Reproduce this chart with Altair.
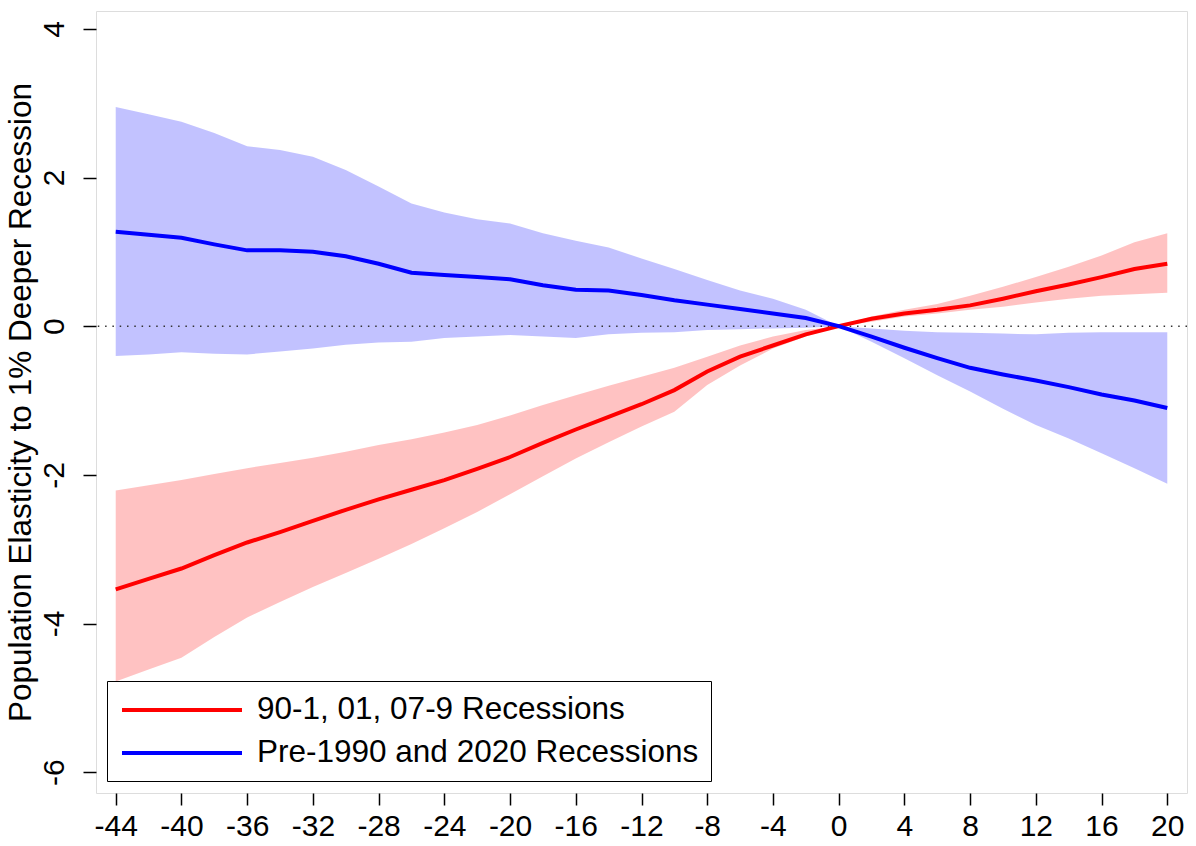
import altair as alt
import pandas as pd

# Event time (months relative to the recession trough)
months = list(range(-44, 21, 2))

# 90-1, 01, 07-9 recessions: point estimate and 95% band
red_est = [-3.54, -3.40, -3.26, -3.08, -2.91, -2.77, -2.62, -2.47, -2.33, -2.20, -2.07,
           -1.92, -1.76, -1.57, -1.39, -1.22, -1.05, -0.86, -0.61, -0.41, -0.26, -0.11,
           0.00, 0.10, 0.17, 0.22, 0.28, 0.37, 0.47, 0.56, 0.66, 0.77, 0.84]
red_hi = [-2.21, -2.14, -2.07, -1.99, -1.91, -1.84, -1.77, -1.69, -1.60, -1.52, -1.43,
          -1.33, -1.20, -1.06, -0.93, -0.80, -0.68, -0.56, -0.41, -0.26, -0.14, -0.05,
          0.00, 0.13, 0.22, 0.30, 0.41, 0.53, 0.66, 0.80, 0.95, 1.13, 1.25]
red_lo = [-4.78, -4.62, -4.46, -4.18, -3.92, -3.71, -3.51, -3.32, -3.13, -2.93, -2.72,
          -2.50, -2.26, -2.02, -1.78, -1.56, -1.35, -1.15, -0.79, -0.53, -0.30, -0.14,
          0.00, 0.06, 0.13, 0.17, 0.22, 0.26, 0.32, 0.37, 0.41, 0.43, 0.45]

# Pre-1990 and 2020 recessions: point estimate and 95% band
blue_est = [1.27, 1.23, 1.19, 1.10, 1.02, 1.02, 1.00, 0.94, 0.84, 0.72, 0.69,
            0.66, 0.63, 0.55, 0.49, 0.48, 0.42, 0.35, 0.29, 0.23, 0.17, 0.11,
            0.00, -0.14, -0.29, -0.43, -0.56, -0.65, -0.73, -0.82, -0.92, -1.00, -1.10]
blue_hi = [2.95, 2.85, 2.75, 2.60, 2.42, 2.37, 2.28, 2.10, 1.88, 1.65, 1.53,
           1.44, 1.38, 1.25, 1.15, 1.06, 0.91, 0.77, 0.62, 0.48, 0.37, 0.22,
           0.00, -0.03, -0.06, -0.08, -0.09, -0.10, -0.11, -0.09, -0.08, -0.08, -0.08]
blue_lo = [-0.40, -0.38, -0.35, -0.37, -0.38, -0.34, -0.30, -0.25, -0.22, -0.21, -0.16,
           -0.14, -0.12, -0.14, -0.16, -0.11, -0.09, -0.08, -0.05, -0.04, -0.03, -0.02,
           0.00, -0.21, -0.43, -0.66, -0.88, -1.11, -1.33, -1.51, -1.71, -1.91, -2.12]

series_names = ["90-1, 01, 07-9 Recessions", "Pre-1990 and 2020 Recessions"]
line_colors = ["#ff0000", "#0000ff"]
x_ticks = list(range(-44, 21, 4))
y_ticks = [-6, -4, -2, 0, 2, 4]

frames = []
for name, est, lo, hi in [(series_names[0], red_est, red_lo, red_hi),
                          (series_names[1], blue_est, blue_lo, blue_hi)]:
    frames.append(pd.DataFrame({"month": months, "est": est, "lo": lo, "hi": hi,
                                "series": name}))
df = pd.concat(frames, ignore_index=True)

FONT = "Liberation Sans"
x_scale = alt.Scale(domain=[-45.2, 21.2], nice=False, zero=False)
y_scale = alt.Scale(domain=[-6.28, 4.24], nice=False, zero=False)

# plain ASCII hyphen for negative tick labels
plain_label = "'' + datum.value"

x_axis = alt.Axis(values=x_ticks, title=None, grid=False, domain=False,
                  tickSize=12, tickWidth=1.5, tickColor="black",
                  labelFontSize=30, labelFont=FONT, labelColor="black",
                  labelExpr=plain_label,
                  labelPadding=6, labelFlush=False, labelOverlap=False)
y_axis = alt.Axis(values=y_ticks, title="Population Elasticity to 1% Deeper Recession",
                  grid=False, domain=False, tickSize=13, tickWidth=1.5, tickColor="black",
                  labelFontSize=30, labelFont=FONT, labelColor="black",
                  labelExpr=plain_label,
                  labelAngle=270, labelAlign="center", labelBaseline="bottom",
                  labelPadding=14, labelOverlap=False,
                  titleFontSize=31.5, titleFont=FONT, titleFontWeight="normal",
                  titleColor="black", titlePadding=2)

base = alt.Chart(df)

bands = []
for name, fill in [(series_names[1], "#0000ff"), (series_names[0], "#ff0000")]:
    bands.append(
        base.transform_filter(alt.datum.series == name)
        .mark_area(color=fill, opacity=0.24)
        .encode(x=alt.X("month:Q", scale=x_scale, axis=x_axis),
                y=alt.Y("lo:Q", scale=y_scale, axis=y_axis),
                y2="hi:Q")
    )

zero_line = alt.Chart(pd.DataFrame({"y": [0]})).mark_rule(
    color="#333333", strokeWidth=1.5, strokeDash=[1.5, 5.8]
).encode(y=alt.Y("y:Q", scale=y_scale))

# non-breaking spaces widen the legend box on its right side
legend_pad = "\u00a0\u00a0"

lines = base.mark_line(strokeWidth=4).encode(
    x=alt.X("month:Q", scale=x_scale),
    y=alt.Y("est:Q", scale=y_scale),
    color=alt.Color("series:N",
                    scale=alt.Scale(domain=series_names, range=line_colors),
                    sort=series_names,
                    legend=alt.Legend(title=None, orient="none", legendX=11, legendY=670,
                                      symbolType="M-4,0H4", symbolSize=900,
                                      symbolStrokeWidth=4, symbolFillColor="transparent",
                                      symbolOffset=46, labelOffset=58, labelLimit=0,
                                      labelExpr="datum.label + '" + legend_pad + "'",
                                      labelFontSize=31.5, labelFont=FONT, labelColor="black",
                                      rowPadding=10, padding=12,
                                      strokeColor="black", fillColor="white")),
    detail="series:N",
)

chart = alt.layer(*bands, zero_line, lines).properties(
    width=1091, height=782,
    autosize=alt.AutoSizeParams(type="none"),
    padding={"left": 96, "top": 11, "right": 9, "bottom": 52},
).configure_view(stroke="black", strokeWidth=2).configure(background="white")

chart.save("out.html", embed_options={"renderer": "svg", "actions": False})
